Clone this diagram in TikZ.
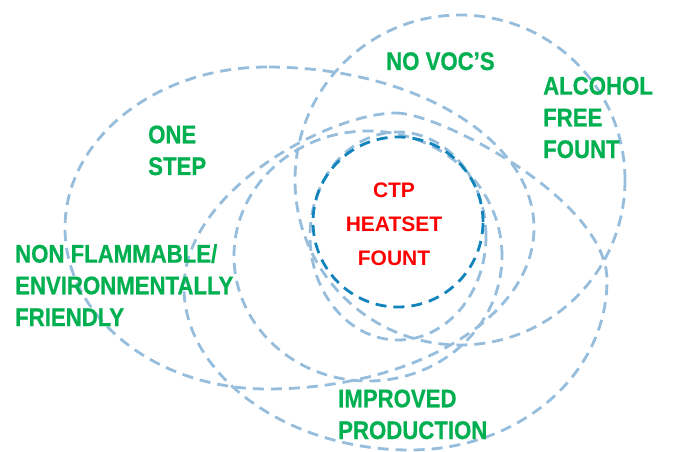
\documentclass[tikz,border=0pt]{standalone}
\usepackage{fontspec}
\setmainfont{Liberation Sans}
\newfontfamily\benefitfont{Liberation Sans Bold}[FakeStretch=0.87,FakeBold=0.6]
\definecolor{ringblue}{RGB}{150,189,220}
\definecolor{coreblue}{RGB}{18,132,188}
\definecolor{benefitgreen}{RGB}{0,176,80}

\begin{document}
\begin{tikzpicture}[x=1pt,y=-1pt,
    ring/.style={draw=ringblue,line width=2.8pt,dash pattern=on 11pt off 7pt},
    core/.style={draw=coreblue,line width=2.8pt,dash pattern=on 11pt off 7pt},
    benefit/.style={text=benefitgreen,font=\benefitfont\fontsize{25.5}{31.7}\selectfont,
      align=left,anchor=base west,inner sep=0pt},
    centre/.style={text=red,font=\bfseries\fontsize{21}{34}\selectfont,
      align=center,anchor=base,inner sep=0pt}]
      \useasboundingbox (0,0) rectangle (673,452);
      % overlapping rings
      \draw[ring] (460,180) circle[radius=165pt];
      \draw[ring] (267,67) arc[start angle=90,end angle=270,x radius=202pt,y radius=161pt]
        arc[start angle=270,end angle=450,x radius=267pt,y radius=161pt] -- cycle;
      \draw[ring] (368,256) ellipse[x radius=134pt,y radius=125pt];
      \draw[ring] (398,236) ellipse[x radius=88pt,y radius=104pt];
      \draw[ring] (396,113) .. controls (440,113) and (607,200) .. (607,280)
        .. controls (607,374) and (520,450) .. (410,450)
        .. controls (286,450) and (184,374) .. (184,288)
        .. controls (184,190) and (330,113) .. (396,113) -- cycle;
      \draw[core] (398,222) circle[radius=85pt];
      % labels (anchored at the last baseline)
      \node[benefit] (novoc) at (386,70) {NO VOC’S};
      \node[benefit] (alcohol) at (543,158) {ALCOHOL\\FREE\\FOUNT};
      \node[benefit] (onestep) at (148,175) {ONE\\STEP};
      \node[benefit] (nonflam) at (15,326) {NON FLAMMABLE/\\ENVIRONMENTALLY\\FRIENDLY};
      \node[benefit] (improved) at (338,439) {IMPROVED\\PRODUCTION};
      \node[centre] (ctp) at (394,265) {CTP\\HEATSET\\FOUNT};
    \end{tikzpicture}
\end{document}
